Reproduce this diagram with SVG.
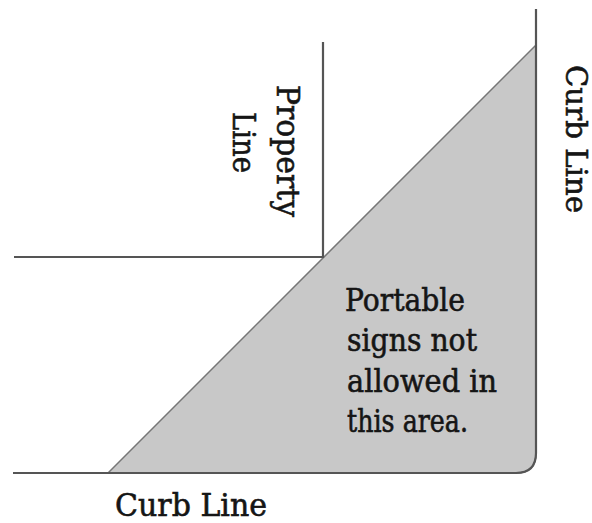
<svg xmlns="http://www.w3.org/2000/svg" width="592" height="523" viewBox="0 0 592 523">
<style>
.ln{fill:none;stroke:#555;stroke-width:2.2}
.tx{font-family:"DejaVu Serif","Liberation Serif",serif;font-size:31px;fill:#151515;stroke:#151515;stroke-width:0.6}
</style>
<rect width="592" height="523" fill="#fff"/>
<g id="area">
<path d="M108,473 L536,45 L536,453 Q536,473 516,473 Z" fill="#c8c8c8" stroke="#777" stroke-width="1.5"/>
<text class="tx" x="345" y="311" textLength="120" lengthAdjust="spacingAndGlyphs">Portable</text>
<text class="tx" x="347" y="351" textLength="130" lengthAdjust="spacingAndGlyphs">signs not</text>
<text class="tx" x="347" y="392" textLength="150" lengthAdjust="spacingAndGlyphs">allowed in</text>
<text class="tx" x="347" y="432" textLength="121" lengthAdjust="spacingAndGlyphs">this area.</text>
</g>
<g id="connectors">
<path class="ln" d="M323,42 L323,257 L14,257"/>
<path class="ln" d="M536,9 L536,453 Q536,473 516,473 L13,473"/>
</g>
<g id="property-line">
<text class="tx" transform="translate(277,85) rotate(90)" textLength="132" lengthAdjust="spacingAndGlyphs">Property</text>
<text class="tx" transform="translate(233,112) rotate(90)" textLength="61" lengthAdjust="spacingAndGlyphs">Line</text>
</g>
<g id="curb-line-right">
<text class="tx" transform="translate(566,65) rotate(90)" textLength="148" lengthAdjust="spacingAndGlyphs" style="font-size:29px">Curb Line</text>
</g>
<g id="curb-line-bottom">
<text class="tx" x="115" y="516" textLength="152" lengthAdjust="spacingAndGlyphs">Curb Line</text>
</g>
</svg>
